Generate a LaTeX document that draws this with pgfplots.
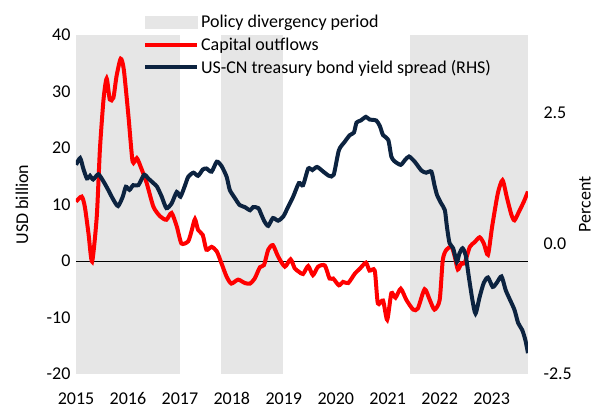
\documentclass[border=0pt]{standalone}
\usepackage{fontspec}
\setmainfont{Carlito}
\usepackage{pgfplots}
\pgfplotsset{compat=1.18}
\definecolor{shadegray}{HTML}{E6E6E6}
\definecolor{navy}{HTML}{0C2340}
\definecolor{myred}{HTML}{FF0000}
\begin{document}
\begin{tikzpicture}
\useasboundingbox (-76pt,-37pt) rectangle (524pt,374pt);
\pgfplotsset{
  every axis/.append style={
    scale only axis, width=452pt, height=339pt,
    xmin=2015, xmax=2023.7,
    font=\fontsize{18}{21}\selectfont,
    /pgf/number format/assume math mode=true,
    axis line style={draw=none}, major tick style={draw=none},
  }
}
\begin{axis}[
  ymin=-20, ymax=40, ytick={-20,-10,0,10,20,30,40},
  xtick={2015,2016,2017,2018,2019,2020,2021,2022,2023},
  xticklabels={2015,2016,2017,2018,2019,2020,2021,2022,2023},
  xticklabel style={yshift=-15pt},
  yticklabel style={xshift=-2pt},
  ylabel={USD billion},
  y label style={at={(axis description cs:-0.1195,0.5)},anchor=center},
  legend style={at={(axis description cs:0.148,1.065)}, anchor=north west,
    draw=none, fill=none, inner sep=0pt, row sep=4.5pt,
    font=\fontsize{18}{21}\selectfont,
    cells={anchor=west}},
  legend image code/.code={\draw[#1,line width=4pt] (0pt,0pt) -- (52pt,0pt);},
]
\fill[shadegray] (axis cs:2015,-20) rectangle (axis cs:2017,40);
\fill[shadegray] (axis cs:2017.79,-20) rectangle (axis cs:2018.98,40);
\fill[shadegray] (axis cs:2021.42,-20) rectangle (axis cs:2023.7,40);
\draw[black, line width=0.8pt] (axis cs:2015,0) -- (axis cs:2023.7,0);
\addlegendimage{legend image code/.code={\fill[shadegray] (0pt,-6pt) rectangle (52pt,6pt);}}
\addlegendentry{Policy divergency period}
\addplot[myred, line width=4pt, smooth, tension=0.4] coordinates {
(2015.00,10.5) (2015.11,11.4) (2015.17,9.6) (2015.24,4.9) (2015.31,-0.1)
(2015.40,7.9) (2015.46,19.7) (2015.53,28.6) (2015.59,32.3) (2015.65,28.6)
(2015.72,28.9) (2015.78,32.7) (2015.86,35.8) (2015.92,33.9) (2016.01,25.6)
(2016.09,17.6) (2016.17,18.2) (2016.24,16.8) (2016.36,13.8) (2016.49,9.6)
(2016.62,7.9) (2016.74,7.3) (2016.84,8.5) (2016.94,6.1) (2017.03,3.1)
(2017.16,3.5) (2017.23,5.5) (2017.29,7.4) (2017.35,5.5) (2017.44,4.6)
(2017.51,2.0) (2017.61,2.5) (2017.71,1.7) (2017.80,-0.4) (2017.90,-2.8)
(2017.99,-4.0) (2018.12,-3.3) (2018.25,-3.9) (2018.35,-4.0) (2018.44,-3.1)
(2018.54,-1.1) (2018.62,-0.7) (2018.70,2.0) (2018.79,2.8) (2018.89,0.8)
(2019.02,-1.0) (2019.13,0.3) (2019.21,-1.3) (2019.29,-1.9) (2019.37,-2.3)
(2019.47,-0.9) (2019.56,-2.5) (2019.66,-1.0) (2019.79,-0.8) (2019.88,-3.1)
(2019.95,-3.1) (2020.06,-4.3) (2020.14,-3.7) (2020.24,-3.9) (2020.37,-2.2)
(2020.46,-1.4) (2020.58,-0.3) (2020.65,-1.7) (2020.75,-1.7) (2020.81,-7.5)
(2020.91,-7.0) (2020.99,-10.4) (2021.07,-5.7) (2021.15,-6.5) (2021.25,-4.9)
(2021.36,-6.9) (2021.49,-8.6) (2021.58,-8.4) (2021.71,-5.0) (2021.81,-6.9)
(2021.90,-8.6) (2022.00,-6.9) (2022.06,0.2) (2022.13,2.0) (2022.23,2.5)
(2022.29,0.8) (2022.35,-1.5) (2022.42,-0.4) (2022.48,-0.4) (2022.58,2.5)
(2022.67,3.3) (2022.77,4.2) (2022.85,3.1) (2022.93,1.1) (2023.01,6.1)
(2023.12,12.0) (2023.21,14.3) (2023.29,11.4) (2023.38,8.2) (2023.44,7.2)
(2023.53,8.8) (2023.62,10.5) (2023.70,12.3)
};
\addlegendentry{Capital outflows}
\addlegendimage{navy, line width=4pt}
\addlegendentry{US-CN treasury bond yield spread (RHS)}
\end{axis}
\begin{axis}[
  ymin=-2.5, ymax=4, ytick={-2.5,0,2.5},
  axis y line*=right, axis x line=none,
  yticklabel style={/pgf/number format/.cd, fixed, fixed zerofill, precision=1, /tikz/.cd, xshift=12pt},
  ylabel={Percent},
  y label style={at={(axis description cs:1.126,0.5)},anchor=center},
]
\addplot[navy, line width=4pt, smooth, tension=0.4] coordinates {
(2015.00,1.51) (2015.08,1.64) (2015.14,1.44) (2015.21,1.25) (2015.27,1.30)
(2015.33,1.23) (2015.43,1.33) (2015.53,1.19) (2015.62,1.03) (2015.72,0.84)
(2015.81,0.72) (2015.90,0.90) (2015.96,1.09) (2016.03,1.03) (2016.10,1.12)
(2016.20,1.12) (2016.31,1.32) (2016.39,1.25) (2016.49,1.16) (2016.56,1.09)
(2016.65,0.90) (2016.74,0.68) (2016.84,0.77) (2016.94,0.99) (2017.01,0.90)
(2017.10,1.12) (2017.16,1.28) (2017.26,1.36) (2017.35,1.30) (2017.44,1.42)
(2017.51,1.44) (2017.61,1.38) (2017.71,1.57) (2017.80,1.49) (2017.90,1.28)
(2017.96,1.03) (2018.06,0.87) (2018.15,0.74) (2018.25,0.70) (2018.35,0.64)
(2018.41,0.70) (2018.51,0.68) (2018.57,0.55) (2018.63,0.42) (2018.70,0.34)
(2018.79,0.49) (2018.89,0.44) (2018.99,0.52) (2019.08,0.70) (2019.18,0.90)
(2019.29,1.16) (2019.37,1.12) (2019.47,1.44) (2019.55,1.41) (2019.64,1.47)
(2019.76,1.38) (2019.87,1.30) (2019.96,1.32) (2020.06,1.79) (2020.17,1.95)
(2020.27,2.08) (2020.35,2.13) (2020.40,2.32) (2020.48,2.36) (2020.58,2.43)
(2020.65,2.38) (2020.78,2.36) (2020.85,2.25) (2020.91,2.08) (2021.01,1.99)
(2021.07,1.67) (2021.13,1.58) (2021.25,1.51) (2021.33,1.60) (2021.41,1.67)
(2021.52,1.57) (2021.65,1.40) (2021.74,1.36) (2021.84,1.38) (2021.90,1.12)
(2021.95,0.93) (2022.03,0.77) (2022.10,0.64) (2022.14,0.32) (2022.19,0.01)
(2022.26,-0.09) (2022.33,-0.35) (2022.38,-0.19) (2022.44,-0.09) (2022.50,-0.22)
(2022.56,-0.63) (2022.63,-1.08) (2022.69,-1.34) (2022.77,-1.02) (2022.85,-0.75)
(2022.93,-0.65) (2023.02,-0.83) (2023.10,-0.75) (2023.19,-0.63) (2023.27,-0.89)
(2023.35,-1.07) (2023.44,-1.27) (2023.51,-1.52) (2023.59,-1.66) (2023.65,-1.85)
(2023.70,-2.10)
};
\end{axis}
\end{tikzpicture}
\end{document}
